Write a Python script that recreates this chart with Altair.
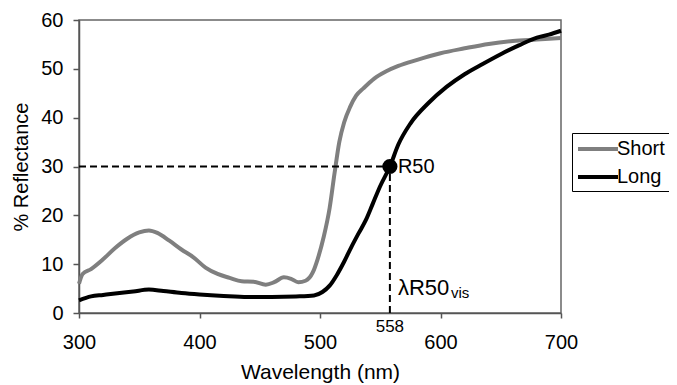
import altair as alt
import pandas as pd

FONT = "Liberation Sans, Arial, sans-serif"

# Short-wavelength sample curve
short_wl = [300, 303, 310, 320, 330, 340, 350, 358, 365, 375, 385, 395, 405, 415, 425,
            435, 445, 455, 462, 470, 476, 482, 488, 494, 498, 503, 508, 512, 516, 520,
            525, 530, 536, 545, 555, 565, 580, 600, 620, 640, 660, 680, 700]
short_val = [6.0, 8.0, 9.0, 11.0, 13.3, 15.2, 16.5, 16.9, 16.4, 14.8, 13.0, 11.4, 9.3, 8.0, 7.2,
             6.5, 6.4, 5.8, 6.3, 7.3, 7.0, 6.3, 6.6, 8.3, 11.0, 15.5, 21.5, 28.5, 35.0, 39.0,
             42.2, 44.5, 46.0, 48.0, 49.5, 50.6, 51.8, 53.2, 54.2, 55.1, 55.7, 56.0, 56.3]

# Long-wavelength sample curve
long_wl = [300, 310, 320, 330, 345, 358, 370, 385, 400, 420, 440, 460, 480, 495, 502,
           508, 514, 520, 526, 532, 538, 544, 550, 558, 565, 575, 590, 605, 620, 635,
           650, 665, 680, 690, 700]
long_val = [2.6, 3.4, 3.7, 4.0, 4.4, 4.8, 4.5, 4.1, 3.8, 3.5, 3.3, 3.3, 3.4, 3.6, 4.3,
            5.6, 7.8, 10.5, 13.5, 16.3, 19.0, 22.5, 26.0, 30.0, 34.5, 38.8, 43.0, 46.3, 48.9, 51.0,
            53.0, 54.8, 56.4, 57.0, 57.8]

series_names = ["Short", "Long"]
series_colors = ["#7f7f7f", "#000000"]

x_ticks = [300, 400, 500, 600, 700]
y_ticks = [0, 10, 20, 30, 40, 50, 60]

r50_wl = 558
r50_val = 30

df = pd.DataFrame(
    {"wl": short_wl + long_wl,
     "val": short_val + long_val,
     "series": ["Short"] * len(short_wl) + ["Long"] * len(long_wl)}
)

x_scale = alt.Scale(domain=[300, 700], nice=False, zero=False)
y_scale = alt.Scale(domain=[0, 60], nice=False)

lines = alt.Chart(df).mark_line(strokeWidth=4, interpolate="monotone").encode(
    x=alt.X("wl:Q", scale=x_scale,
            axis=alt.Axis(values=x_ticks, title="Wavelength (nm)", titleFontSize=21)),
    y=alt.Y("val:Q", scale=y_scale,
            axis=alt.Axis(values=y_ticks, title="% Reflectance")),
    color=alt.Color("series:N",
                    scale=alt.Scale(domain=series_names, range=series_colors),
                    legend=alt.Legend(title=None, orient="none", legendX=493, legendY=113,
                                      symbolType="M-2,0L2,0", symbolSize=400,
                                      symbolOffset=10, symbolStrokeWidth=4,
                                      labelFontSize=20, labelFont=FONT, labelColor="#000000",
                                      labelOffset=7, rowPadding=6, padding=4,
                                      strokeColor="#000000")),
    detail="series:N",
)

guides = pd.DataFrame({
    "x": [300, r50_wl],
    "x2": [r50_wl, r50_wl],
    "y": [r50_val, 0],
    "y2": [r50_val, r50_val],
})

dash = alt.Chart(guides).mark_rule(strokeDash=[7, 4], strokeWidth=2, color="#000000").encode(
    x="x:Q", x2="x2:Q", y="y:Q", y2="y2:Q"
)

point = alt.Chart(pd.DataFrame({"x": [r50_wl], "y": [r50_val]})).mark_point(
    filled=True, size=230, color="#000000", opacity=1
).encode(x="x:Q", y="y:Q")

r50_text = alt.Chart(pd.DataFrame({"x": [r50_wl], "y": [r50_val], "t": ["R50"]})).mark_text(
    align="left", baseline="middle", dx=8, fontSize=20, font=FONT, color="#000000"
).encode(x="x:Q", y="y:Q", text="t:N")

lam_text = alt.Chart(pd.DataFrame({"x": [r50_wl], "y": [3.7], "t": ["λR50"]})).mark_text(
    align="left", baseline="alphabetic", dx=8, fontSize=22, font=FONT, color="#000000"
).encode(x="x:Q", y="y:Q", text="t:N")

vis_text = alt.Chart(pd.DataFrame({"x": [r50_wl], "y": [3.0], "t": ["vis"]})).mark_text(
    align="left", baseline="alphabetic", dx=61, fontSize=15, font=FONT, color="#000000"
).encode(x="x:Q", y="y:Q", text="t:N")

tick558 = alt.Chart(pd.DataFrame({"x": [r50_wl], "y": [-3.9], "t": ["558"]})).mark_text(
    align="center", baseline="alphabetic", fontSize=17, font=FONT, color="#000000"
).encode(x="x:Q", y="y:Q", text="t:N")

chart = alt.layer(lines, dash, point, r50_text, lam_text, vis_text, tick558).properties(
    width=482, height=293,
    autosize=alt.AutoSizeParams(type="none"),
    padding={"left": 71, "top": 12, "right": 108, "bottom": 72},
).configure_view(
    stroke="#666666", strokeWidth=1.5
).configure_axis(
    grid=False, labelFont=FONT, titleFont=FONT, labelFontSize=20, titleFontSize=20,
    titleFontWeight="normal", labelColor="#000000", titleColor="#000000",
    domainColor="#555555", tickColor="#555555", domainWidth=1.5, tickWidth=1.5,
    labelFlush=False,
).configure_axisX(
    tickSize=5, labelPadding=14, titlePadding=9
).configure_axisY(
    tickSize=6, labelPadding=10, titlePadding=9
)

chart.save("out.html", embed_options={"renderer": "svg", "actions": False})
